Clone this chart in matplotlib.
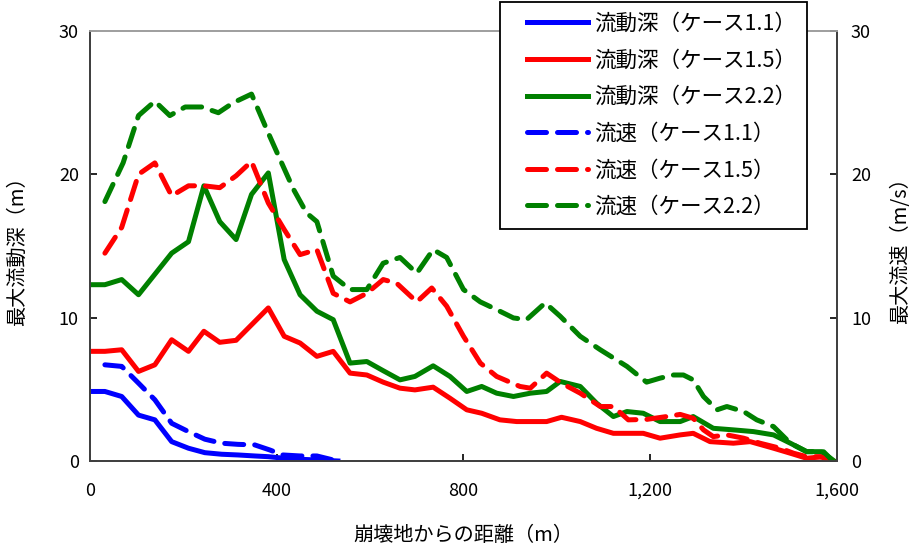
import matplotlib
matplotlib.use("Agg")
import matplotlib.pyplot as plt
from matplotlib.ticker import FuncFormatter
from matplotlib.legend_handler import HandlerLine2D

plt.rcParams['font.family'] = ['Noto Sans CJK JP', 'DejaVu Sans']

# 流動深 (m)
dist_d11 = [0, 32, 68, 104, 139, 175, 211, 246, 282, 317, 353, 382, 416, 450, 486, 531]
depth_11 = [4.85, 4.85, 4.5, 3.2, 2.87, 1.35, 0.89, 0.58, 0.47, 0.42, 0.35, 0.3, 0.19, 0.12, 0.07, 0.0]

dist_d15 = [0, 32, 68, 104, 139, 175, 211, 244, 278, 313, 346, 382, 416, 450, 486, 521, 557, 593,
            628, 664, 696, 735, 771, 807, 839, 878, 914, 950, 978, 1010, 1050, 1085, 1121, 1185,
            1221, 1264, 1292, 1328, 1378, 1414, 1464, 1500, 1535, 1571, 1591]
depth_15 = [7.65, 7.65, 7.76, 6.25, 6.71, 8.46, 7.65, 9.05, 8.28, 8.42, 9.5, 10.68, 8.7, 8.23, 7.3,
            7.65, 6.13, 6.0, 5.5, 5.08, 4.96, 5.15, 4.38, 3.57, 3.33, 2.87, 2.75, 2.75, 2.75, 3.05,
            2.75, 2.28, 1.93, 1.93, 1.59, 1.82, 1.93, 1.35, 1.24, 1.35, 0.89, 0.54, 0.19, 0.3, 0.0]

dist_d22 = [0, 32, 68, 104, 175, 211, 244, 278, 313, 346, 382, 416, 450, 486, 521, 557, 593, 628,
            664, 696, 735, 771, 807, 839, 871, 907, 943, 978, 1007, 1050, 1085, 1121, 1150, 1185,
            1221, 1264, 1292, 1335, 1378, 1421, 1464, 1500, 1535, 1567, 1591]
depth_22 = [12.3, 12.3, 12.66, 11.6, 14.5, 15.3, 19.2, 16.7, 15.45, 18.6, 20.1, 14.05, 11.6, 10.45,
            9.86, 6.83, 6.94, 6.3, 5.66, 5.9, 6.64, 5.9, 4.85, 5.2, 4.73, 4.5, 4.73, 4.85, 5.55, 5.2,
            4.03, 3.1, 3.45, 3.33, 2.75, 2.75, 3.1, 2.28, 2.17, 2.05, 1.82, 1.24, 0.65, 0.65, 0.07]

# 流速 (m/s)
dist_v11 = [32, 68, 104, 139, 175, 211, 246, 282, 317, 353, 385, 413, 450, 486, 521]
vel_11 = [6.71, 6.6, 5.43, 4.27, 2.63, 2.05, 1.52, 1.24, 1.16, 1.12, 0.77, 0.42, 0.35, 0.35, 0.07]

dist_v15 = [32, 68, 104, 139, 175, 211, 244, 278, 313, 346, 382, 416, 450, 486, 521, 557, 593, 628,
            657, 700, 732, 764, 800, 836, 871, 921, 943, 978, 1010, 1050, 1093, 1121, 1153, 1192,
            1235, 1264, 1292, 1314, 1335, 1364, 1400, 1435, 1478, 1507, 1535, 1564, 1591]
vel_15 = [14.5, 16.3, 20.0, 20.8, 18.5, 19.2, 19.2, 19.07, 19.9, 20.9, 18.0, 16.15, 14.4, 14.75,
          11.7, 11.1, 11.7, 12.66, 12.4, 11.1, 12.07, 10.8, 8.7, 6.83, 5.9, 5.2, 5.08, 6.13, 5.43,
          4.73, 3.8, 3.8, 2.87, 2.9, 3.1, 3.25, 2.98, 2.17, 1.7, 1.82, 1.59, 1.24, 0.89, 0.54, 0.3,
          0.3, 0.0]

dist_v22 = [32, 71, 104, 139, 171, 204, 239, 275, 307, 346, 379, 407, 436, 464, 486, 521, 557, 593,
            628, 664, 700, 735, 764, 800, 836, 871, 907, 935, 975, 1007, 1050, 1093, 1150, 1192,
            1221, 1250, 1271, 1292, 1314, 1343, 1364, 1400, 1428, 1464, 1500, 1535, 1571, 1591]
vel_22 = [18.1, 20.8, 24.1, 25.1, 24.1, 24.7, 24.7, 24.3, 25.0, 25.6, 23.1, 21.05, 18.95, 17.3,
          16.7, 12.9, 11.96, 11.96, 13.8, 14.2, 13.1, 14.75, 14.2, 11.96, 11.1, 10.56, 9.98, 9.86,
          11.03, 10.1, 8.7, 7.76, 6.6, 5.5, 5.78, 6.0, 6.0, 5.66, 4.5, 3.57, 3.8, 3.45, 2.87, 2.4,
          1.24, 0.65, 0.65, 0.0]

BLUE = '#0000ff'
RED = '#ff0000'
GREEN = '#008000'
LW = 3.6
DASH = (3.8, 2.2)

fig = plt.figure(figsize=(9.17, 5.56), dpi=100)
ax = fig.add_axes([0.0981, 0.1709, 0.8147, 0.7733])
ax2 = ax.twinx()

l1, = ax.plot(dist_d11, depth_11, color=BLUE, lw=LW, label='流動深（ケース1.1）')
l2, = ax.plot(dist_d15, depth_15, color=RED, lw=LW, label='流動深（ケース1.5）')
l3, = ax.plot(dist_d22, depth_22, color=GREEN, lw=LW, label='流動深（ケース2.2）')
l4, = ax2.plot(dist_v11, vel_11, color=BLUE, lw=LW, dashes=DASH, dash_capstyle='round',
               label='流速（ケース1.1）')
l5, = ax2.plot(dist_v15, vel_15, color=RED, lw=LW, dashes=DASH, dash_capstyle='round',
               label='流速（ケース1.5）')
l6, = ax2.plot(dist_v22, vel_22, color=GREEN, lw=LW, dashes=DASH, dash_capstyle='round',
               label='流速（ケース2.2）')

for a in (ax, ax2):
    a.set_xlim(0, 1600)
    a.set_ylim(0, 30)
    a.set_yticks([0, 10, 20, 30])
    a.tick_params(direction='in', length=5, width=1.2, labelsize=13, pad=8)
    for s in a.spines.values():
        s.set_linewidth(1.3)
        s.set_color('#404040')
    a.spines['top'].set_color('#a0a0a0')

ax.set_xticks([0, 400, 800, 1200, 1600])
ax.xaxis.set_major_formatter(FuncFormatter(lambda v, p: f'{int(v):,}'))
ax.tick_params(axis='x', pad=15)
ax2.tick_params(axis='y', pad=10)

ax.set_xlabel('崩壊地からの距離（m）', fontsize=14.5, labelpad=18)
ax.set_ylabel('最大流動深（m）', fontsize=14.5, labelpad=22)
ax2.set_ylabel('最大流速（m/s）', fontsize=14.5, labelpad=14)

# legend: extra room left of the sample lines via the handler's xpad
handles = [l1, l2, l3, l4, l5, l6]
leg = fig.legend(handles=handles, loc='upper left',
                 bbox_to_anchor=(0.545, 0.9964), borderaxespad=0, fontsize=15.5,
                 handlelength=3.6, labelspacing=0.68, handletextpad=0.3, borderpad=0.5,
                 fancybox=False, framealpha=1,
                 handler_map={h: HandlerLine2D(xpad=0.75) for h in handles})
leg.get_frame().set_edgecolor('black')
leg.get_frame().set_linewidth(1.3)

fig.savefig('out.png', dpi=100)
